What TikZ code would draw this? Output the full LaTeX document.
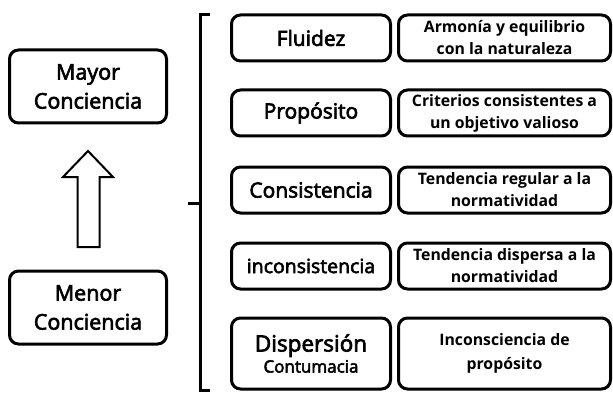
\documentclass[tikz,border=0pt]{standalone}
\usepackage{fontspec}
\setmainfont{Open Sans}
\newfontfamily\semib{Open Sans}[FakeBold=3]
\begin{document}
\begin{tikzpicture}[x=1pt,y=-1pt,
  box/.style={draw, line width=3pt, rounded corners=9pt, align=center, inner sep=0pt},
  leftbox/.style={box, minimum width=157pt, minimum height=73pt, font=\semib\fontsize{21.5}{29}\selectfont},
  midbox/.style={box, minimum width=159pt, minimum height=46pt, font=\semib\fontsize{21}{24}\selectfont},
  rightbox/.style={box, minimum width=212pt, minimum height=46pt, font=\bfseries\fontsize{15.8}{22}\selectfont},
  bracketline/.style={line width=3pt},
  blockarrow/.style={draw, line width=2pt, line join=miter}]
\useasboundingbox (0,0) rectangle (613,393);
% left column
\node[leftbox] (mayor) at (88,86.5) {Mayor\\Conciencia};
\node[leftbox] (menor) at (88,307.5) {Menor\\Conciencia};
% block arrow
\coordinate (tip) at (88,151);
\draw[blockarrow] (tip) -- (113,177) -- (99.5,177) -- (99.5,247) -- (77.5,247) -- (77.5,177) -- (63,177) -- cycle;
% bracket
\coordinate (btop) at (210,14.5);
\coordinate (bbot) at (210,390.5);
\coordinate (bmid) at (188,203);
\draw[bracketline] (btop) -- (200.5,14.5) -- (200.5,390.5) -- (bbot);
\draw[bracketline] (bmid) -- (200.5,203);
% middle column
\node[midbox] (m1) at (311,38) {Fluidez};
\node[midbox] (m2) at (311,113) {Propósito};
\node[midbox] (m3) at (311,190) {Consistencia};
\node[midbox] (m4) at (311,266) {{\fontsize{19.5}{24}\selectfont inconsistencia}};
\node[midbox, minimum height=71pt] (m5) at (311,353.5) {{\fontsize{22.5}{26}\selectfont Dispersión}\\[-3pt]{\fontsize{17}{20}\selectfont Contumacia}};
% right column
\node[rightbox] (r1) at (504.5,38) {Armonía y equilibrio\\con la naturaleza};
\node[rightbox] (r2) at (504.5,113) {Criterios consistentes a\\un objetivo valioso};
\node[rightbox] (r3) at (504.5,190) {Tendencia regular a la\\normatividad};
\node[rightbox] (r4) at (504.5,266) {Tendencia dispersa a la\\normatividad};
\node[rightbox, minimum height=71pt, font=\bfseries\fontsize{15.8}{24}\selectfont] (r5) at (504.5,353.5) {Inconsciencia de\\propósito};
\end{tikzpicture}
\end{document}
